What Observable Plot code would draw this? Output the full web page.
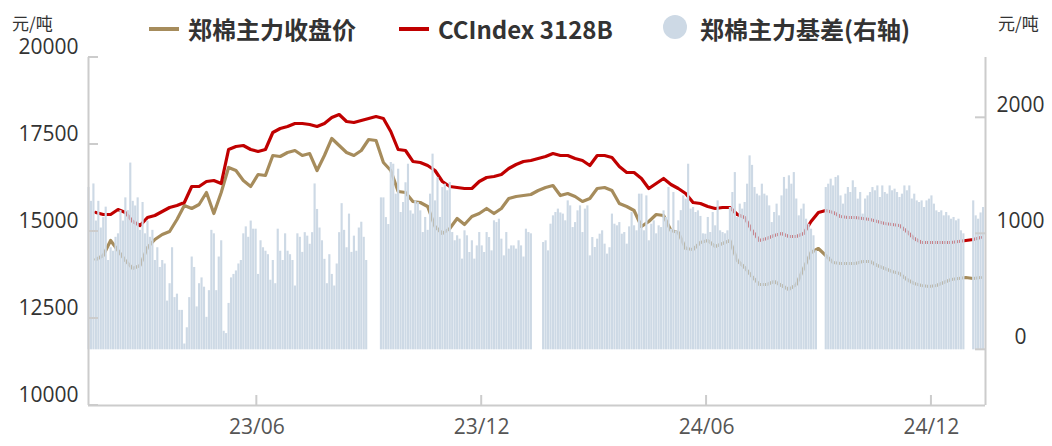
<!DOCTYPE html>
<html><head><meta charset="utf-8">
<script src="https://cdn.jsdelivr.net/npm/d3@7"></script>
<script src="https://cdn.jsdelivr.net/npm/@observablehq/plot@0.6"></script>
<style>
body{margin:0;background:#fff;}
#wrap{position:relative;width:1052px;height:446px;overflow:hidden;background:#fff;}
#wrap svg{position:absolute;left:0;top:0;}
.lg{position:absolute;font-family:"Noto Sans CJK SC";font-weight:700;font-size:24px;color:#333;white-space:nowrap;line-height:30px;top:14px;}
.sw{position:absolute;}
.unit{position:absolute;top:10px;font-family:"Noto Sans CJK SC";font-size:17px;color:#333;}
</style></head>
<body><div id="wrap"></div>
<script>
// ---------- data ----------
const startDate = "2023-01-15", endDate = "2025-01-14";
const barStepDays = 2;   // basis sampled every 2 days from startDate
const lineStepDays = 6;  // prices sampled every 6 days, first at startDate + 6 days

const seriesNames = ["郑棉主力收盘价", "CCIndex 3128B", "郑棉主力基差(右轴)"];
const seriesColors = ["#a68c5c", "#c00000", "#cdd9e5"];
const unitLabel = "元/吨";

const zceClose = [14195,14310,14741,14454,14167,13937,14023,14540,14770,14914,
15000,15345,15747,15661,15776,16121,15517,16121,16839,16753,
16466,16293,16638,16609,17184,17155,17270,17328,17184,17241,
16753,17184,17673,17471,17270,17184,17328,17644,17615,16983,
16753,16149,16121,15862,15833,15718,15144,14943,15086,15374,
15201,15431,15517,15661,15517,15661,15948,16006,16034,16063,
16178,16264,16322,16034,16092,16006,15862,15948,16236,16264,
16178,15805,15718,15603,15144,15287,15489,15460,15029,14971,
14511,14483,14684,14741,14569,14655,14741,14167,13966,13707,
13477,13477,13563,13448,13333,13477,13937,14397,14511,14310,
14109,14081,14081,14081,14138,14138,14023,13937,13851,13793,
13621,13506,13448,13420,13448,13534,13621,13649,13678,13649,
13678];

const ccIndex = [15546,15489,15489,15632,15546,15287,15172,15402,15460,15575,
15690,15747,15833,16293,16293,16437,16466,16379,17356,17443,
17471,17356,17299,17356,17845,17960,18017,18103,18103,18075,
18017,18103,18276,18362,18161,18132,18190,18247,18305,18247,
17874,17356,17328,17012,16983,16897,16753,16437,16293,16264,
16236,16236,16437,16552,16581,16638,16811,16925,17012,17040,
17098,17155,17241,17184,17184,17098,17040,16897,17184,17184,
17126,16868,16695,16695,16523,16236,16379,16523,16351,16236,
16092,15833,15805,15718,15661,15690,15690,15489,15402,15029,
14741,14799,14885,14943,14856,14856,14943,15287,15546,15604,
15546,15431,15402,15402,15374,15345,15287,15230,15201,15172,
15000,14799,14684,14684,14684,14684,14684,14713,14741,14770,
14828];

const basis = [1400,1280,1430,1110,1280,1050,1140,1230,770,880,
850,970,1000,1200,1110,1310,1200,1610,1280,1240,
1310,1030,1270,1000,1110,970,1030,770,880,710,
770,740,420,570,880,450,480,340,340,50,
190,450,800,710,370,570,620,540,280,510,
1030,1000,510,800,940,160,140,400,620,650,
680,740,770,1000,1060,970,1110,1040,1040,650,
940,880,850,820,600,770,570,1040,850,770,
1000,850,820,770,550,1000,970,840,1010,980,
910,1010,1430,1210,1050,940,780,570,820,650,
550,740,1010,1260,1030,880,1170,840,980,850,
1050,1100,970,770,null,null,null,null,null,1310,
1310,1140,1080,1615,1600,1342,1557,1184,1270,1440,
1600,1198,1170,1284,1270,1198,1011,1141,1030,1342,
1687,1284,1486,1141,1399,1428,1371,1442,1011,940,
983,954,782,1026,983,839,940,782,896,1011,
896,839,1011,968,853,1112,1097,1126,954,810,
1011,868,896,896,868,940,896,800,1040,1011,
1000,null,null,null,null,925,940,853,1083,1155,
1184,1213,1180,1170,1112,1284,1241,1054,1097,1198,
1241,1011,1213,1241,810,968,882,954,997,1026,
911,825,880,1170,1083,1069,1097,997,1011,911,
1060,1184,1069,1026,1342,1342,1026,1327,940,1083,
1112,1000,1069,1054,1198,1141,1399,1040,1356,1026,
1112,1200,1327,1299,1600,1213,1227,1184,1198,1150,
1000,997,1141,1011,1184,1069,1284,1026,1011,1000,
1026,1227,1356,1528,1141,1256,1213,1270,1428,1672,
1590,1399,1342,1327,1428,1342,1327,1241,1097,1184,
1256,1155,1327,1486,1385,1500,1428,1528,1300,1155,
1213,1256,1126,1083,1040,983,853,null,null,null,
1399,1428,1471,1413,1486,1500,1327,1256,1342,1399,
1356,1457,1399,1299,1356,1170,1300,1327,1356,1399,
1371,1413,1313,1413,1356,1342,1413,1371,1385,1356,
1313,1342,1413,1371,1413,1300,1342,1284,1270,1284,
1227,1284,1299,1327,1256,1198,1184,1198,1155,1184,
1155,1126,1141,1112,1126,1026,1000,null,null,null,
1284,1155,1126,1180,1227];

const xTickDates = ["2023-06-01","2023-12-01","2024-06-01","2024-12-01"];
const xTickLabels = ["23/06","23/12","24/06","24/12"];
const leftDomain = [10000, 20000];
const leftTicks = [10000, 12500, 15000, 17500, 20000];
const rightDomain = [-480, 2520];
const rightTicks = [0, 1000, 2000];

// ---------- build ----------
const DAY = 864e5;
const t0 = new Date(startDate + "T00:00:00Z"), t1 = new Date(endDate + "T00:00:00Z");
const toLeft = r => leftDomain[0] + (r - rightDomain[0]) * (leftDomain[1]-leftDomain[0])/(rightDomain[1]-rightDomain[0]);

const goldData = zceClose.map((v,j)=>({date:new Date(+t0 + (j+1)*lineStepDays*DAY), v}));
const redData = ccIndex.map((v,j)=>({date:new Date(+t0 + (j+1)*lineStepDays*DAY), v}));
const barData = basis.map((v,i)=>({date:new Date(+t0 + i*barStepDays*DAY), v})).filter(d=>d.v!=null);
const xTicks = xTickDates.map((d,i)=>({date:new Date(d+"T00:00:00Z"), label:xTickLabels[i]}));

const W=1052,H=446,mL=88,mR=67,mT=57,mB=41;
const axisColor="#cccccc";

const plot = Plot.plot({
  width:W, height:H, marginLeft:mL, marginRight:mR, marginTop:mT, marginBottom:mB,
  x:{type:"utc", domain:[t0,t1], axis:null},
  y:{domain:leftDomain, axis:null},
  style:{fontFamily:"'Open Sans'", fontSize:"21px", background:"transparent", overflow:"visible"},
  marks:[
    Plot.line(goldData,{x:"date", y:"v", stroke:seriesColors[0], strokeWidth:3.2}),
    Plot.line(redData,{x:"date", y:"v", stroke:seriesColors[1], strokeWidth:3.2}),
    Plot.ruleX(barData,{x:"date", y1:toLeft(0), y2:d=>toLeft(d.v), stroke:seriesColors[2], strokeWidth:2.15}),
    Plot.ruleX([t0,t1],{stroke:axisColor, strokeWidth:2}),
    Plot.ruleY([leftDomain[0]],{stroke:axisColor, strokeWidth:2}),
    Plot.text(leftTicks,{y:d=>d, text:d=>String(d), frameAnchor:"left", textAnchor:"end", dx:-10, dy:-10, fill:"#333"}),
    Plot.text(rightTicks,{y:d=>toLeft(d), text:d=>String(d), frameAnchor:"right", textAnchor:"middle", dx:35, dy:-13, fill:"#333"}),
    Plot.text(xTicks,{x:"date", text:"label", frameAnchor:"bottom", dy:28, fill:"#555"})
  ]
});

// inward tick marks, positioned with the plot's own scales
const xs = plot.scale("x"), ys = plot.scale("y");
const s = d3.select(plot);
const g = s.append("g").attr("stroke", axisColor).attr("stroke-width", 2);
leftTicks.forEach(v=>{ const y=ys.apply(v); g.append("line").attr("x1",mL).attr("x2",mL+10).attr("y1",y).attr("y2",y); });
rightTicks.forEach(v=>{ const y=ys.apply(toLeft(v)); g.append("line").attr("x1",W-mR-10).attr("x2",W-mR).attr("y1",y).attr("y2",y); });
xTicks.forEach(t=>{ const x=xs.apply(t.date); g.append("line").attr("x1",x).attr("x2",x).attr("y1",H-mB-10).attr("y2",H-mB); });

const wrap = document.getElementById("wrap");
wrap.appendChild(plot);

// legend and unit labels
const legendX = [[149,188],[399,438],[663,700]];
seriesNames.forEach((name,i)=>{
  const sw = document.createElement("div");
  sw.className="sw";
  if(i<2){ Object.assign(sw.style,{left:legendX[i][0]+"px", top:"27px", width:"30px", height:"4px", background:seriesColors[i]}); }
  else { Object.assign(sw.style,{left:legendX[i][0]+"px", top:"15px", width:"24px", height:"24px", borderRadius:"50%", background:seriesColors[i]}); }
  wrap.appendChild(sw);
  const tx = document.createElement("div");
  tx.className="lg"; tx.style.left=legendX[i][1]+"px"; tx.textContent=name;
  wrap.appendChild(tx);
});
const u1=document.createElement("div"); u1.className="unit"; u1.style.left="12px"; u1.textContent=unitLabel; wrap.appendChild(u1);
const u2=document.createElement("div"); u2.className="unit"; u2.style.left="998px"; u2.textContent=unitLabel; wrap.appendChild(u2);
</script>
</body></html>
